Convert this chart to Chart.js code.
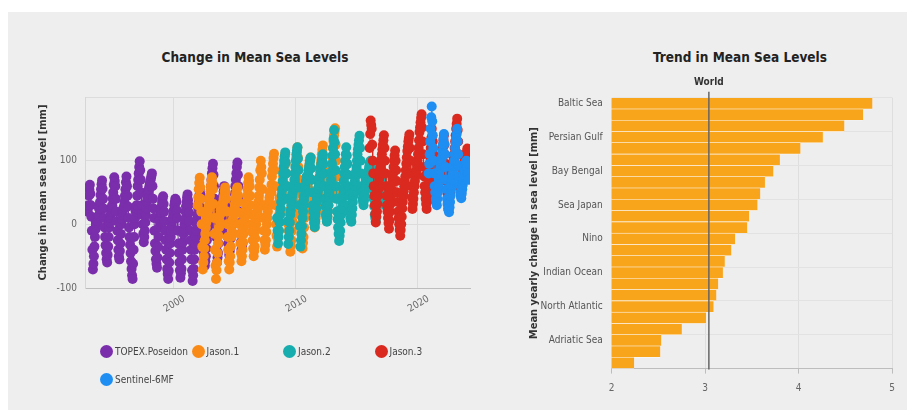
<!DOCTYPE html>
<html>
<head>
<meta charset="utf-8">
<script src="https://cdn.jsdelivr.net/npm/chart.js@4.4.1/dist/chart.umd.min.js"></script>
<style>
  html, body { margin: 0; padding: 0; background: #ffffff; width: 907px; height: 410px; overflow: hidden; }
  body { position: relative; font-family: "DejaVu Sans Condensed", "Liberation Sans", sans-serif; }
  #panel { position: absolute; left: 8px; top: 12px; width: 899px; height: 398px; background: #eeeeee; }
  canvas { position: absolute; top: 0; }
  .title { position: absolute; top: 47px; width: 320px; text-align: center; font-size: 13.5px; font-weight: bold; color: #222; line-height: 20px; }
  .legend-item { position: absolute; height: 14px; display: flex; align-items: center; font-size: 10px; color: #444; white-space: nowrap; }
  .legend-item .dot { width: 13px; height: 13px; border-radius: 50%; margin-right: 2px; flex: none; }
</style>
</head>
<body>
<div id="panel"></div>
<div class="title" style="left:95px">Change in Mean Sea Levels</div>
<div class="title" style="left:580px">Trend in Mean Sea Levels</div>
<canvas id="levels" width="500" height="410" style="left:0"></canvas>
<canvas id="trends" width="397" height="410" style="left:510px"></canvas>
<div id="legend"></div>
<script>
// ---- Half-monthly mean sea level anomaly [mm], one array per altimetry mission ----
const missionNames = ['TOPEX.Poseidon', 'Jason.1', 'Jason.2', 'Jason.3', 'Sentinel-6MF'];
const missionColors = ['#7a2eab', '#fa8a16', '#17adae', '#da2a1f', '#1e8ef2'];
// first sample of each record (decimal year) and samples per year
const missionStarts = [1993, 2002, 2008.5, 2016 + 1 / 12, 2020 + 11 / 12];
const samplesPerYear = 24;

const topexPoseidon = [
  20, 30, 45, 55, 62, 48, 30, 12, -10, -40, -71, -62, -50, -35, -20, -8, 0, 6, 10, 8, 5, 14, 25, 30,
  35, 46, 55, 63, 69, 56, 40, 25, 10, -5, -20, -33, -45, -55, -60, -48, -35, -20, -5, 3, 10, 15, 20, 27,
  30, 40, 50, 62, 74, 68, 60, 40, 20, 5, -10, -25, -40, -50, -55, -42, -30, -15, 0, 8, 15, 20, 25, 28,
  35, 45, 55, 66, 75, 60, 45, 28, 10, -5, -20, -32, -45, -58, -70, -80, -86, -62, -40, -20, 0, 10, 20, 25,
  30, 45, 60, 70, 80, 90, 99, 85, 70, 50, 30, 15, 0, -15, -28, -20, -10, 3, 15, 25, 35, 42, 50, 53,
  55, 60, 65, 68, 72, 76, 80, 60, 40, 25, 10, -10, -30, -42, -55, -62, -68, -52, -35, -20, -5, 5, 15, 18,
  20, 28, 35, 40, 44, 32, 20, 5, -10, -25, -40, -55, -70, -78, -86, -73, -60, -45, -30, -20, -10, -2, 5, 10,
  15, 22, 30, 35, 40, 38, 35, 22, 10, -10, -30, -45, -60, -72, -84, -77, -70, -55, -40, -28, -15, -7, 0, 8,
  20, 28, 35, 42, 47, 38, 30, 18, 5, -10, -25, -40, -55, -72, -89, -80, -70, -55, -40, -30, -20, -10, 0, 8,
  15, 25, 35, 45, 55, 48, 40, 25, 10, -5, -20, -32, -45, -55, -65, -58, -50, -38, -25, -15, -5, 2, 10, 20,
  30, 45, 60, 70, 80, 88, 95, 78, 60, 40, 20, 0, -20, -40, -60, -52, -45, -30, -15, -5, 5, 12, 20, 22,
  25, 35, 45, 52, 60, 50, 40, 28, 15, 3, -10, -20, -30, -40, -48, -42, -35, -22, -10, 0, 10, 15, 20, 28,
  35, 48, 60, 70, 80, 90, 97, 78, 60, 40, 20, 2, -15, -28, -40, -35, -30
];
const jason1 = [
  30, 42, 55, 65, 73, 58, 40, 20, 0, -35, -71, -60, -50, -38, -25, -15, -5, 3, 10, 15, 20, 25, 30, 38,
  45, 52, 60, 68, 74, 65, 55, 32, 10, -15, -40, -65, -86, -72, -60, -45, -30, -18, -5, 5, 15, 22, 30, 25,
  20, 28, 35, 40, 45, 52, 58, 50, 40, 20, 0, -20, -40, -58, -71, -60, -50, -35, -20, -10, 0, 8, 15, 20,
  25, 32, 40, 45, 50, 55, 58, 46, 35, 18, 0, -15, -30, -45, -58, -50, -40, -28, -15, -5, 5, 12, 20, 28,
  35, 45, 55, 65, 74, 68, 60, 45, 30, 15, 0, -12, -25, -38, -50, -42, -35, -22, -10, 0, 10, 18, 25, 35,
  45, 58, 70, 85, 100, 90, 80, 55, 30, 10, -10, -25, -40, -32, -25, -12, 0, 10, 20, 28, 35, 42, 50, 50,
  50, 62, 75, 85, 95, 104, 111, 85, 60, 30, 0, -18, -35, -22, -10, 3, 15, 25, 35, 40, 45, 50, 55, 65,
  75, 85, 95, 102, 110, 95, 80, 60, 40, 20, 0, -10, -20, -32, -43, -34, -25, -10, 5, 15, 25, 35, 45, 60,
  80, 92, 105, 113, 121, 105, 90, 70, 50, 32, 15, 0, -15, -27, -38, -29, -20, -5, 10, 20, 30, 40, 50, 60,
  70, 78, 85, 92, 100, 103, 105, 88, 70, 52, 35, 22, 10, 2, -5, 2, 10, 20, 30, 38, 45, 50, 55, 65,
  75, 85, 95, 102, 110, 117, 124, 107, 90, 70, 50, 35, 20, 12, 5, 12, 20, 30, 40, 48, 55, 60, 65, 78,
  90, 105, 120, 130, 140, 146, 151, 125, 100, 75, 50
];
const jason2 = [
  10, -10, -30, -20, -10, 3, 15, 25, 35, 45, 55, 68,
  80, 90, 100, 107, 113, 97, 80, 60, 40, 5, -31, -20, -10, 3, 15, 22, 30, 38, 45, 50, 55, 62, 70, 80,
  90, 100, 110, 116, 121, 103, 85, 58, 30, -3, -35, -25, -15, -3, 10, 20, 30, 38, 45, 52, 60, 68, 75, 72,
  70, 78, 85, 90, 95, 100, 105, 88, 70, 50, 30, 20, 10, 3, -4, 5, 15, 25, 35, 43, 50, 55, 60, 68,
  75, 82, 90, 95, 100, 105, 110, 95, 80, 60, 40, 28, 15, 10, 4, 12, 20, 30, 40, 48, 55, 62, 70, 82,
  95, 108, 120, 134, 148, 129, 110, 85, 60, 40, 20, 8, -5, -15, -26, -18, -10, 3, 15, 25, 35, 45, 55, 68,
  80, 90, 100, 110, 121, 108, 95, 78, 60, 45, 30, 20, 10, 7, 4, 15, 25, 35, 45, 52, 60, 68, 75, 82,
  90, 100, 110, 118, 125, 132, 139, 120, 100, 80, 60, 50, 40, 35, 30, 38, 45, 52, 60, 65, 70, 75, 80, 82,
  85, 90, 95, 98, 100, 95, 90, 80, 70, 55, 40, 28, 15, 10, 5, 12, 20, 32, 45, 55, 65, 72, 80, 85,
  90, 85, 80, 70, 60, 50, 40, 35, 30, 38, 45, 50
];
const jason3 = [
  120, 142, 163, 156, 150, 125, 100, 80, 60, 45, 30, 16, 3, 12, 20, 32, 45, 55, 65, 72, 80, 88,
  95, 102, 110, 118, 125, 132, 140, 120, 100, 80, 60, 45, 30, 20, 10, 2, -7, 6, 20, 32, 45, 55, 65, 72,
  80, 90, 100, 108, 116, 100, 85, 68, 50, 35, 20, 10, 0, -9, -18, -9, 0, 12, 25, 35, 45, 52, 60, 68,
  75, 85, 95, 105, 115, 122, 130, 135, 141, 120, 100, 80, 60, 42, 24, 32, 40, 50, 60, 68, 75, 80, 85, 92,
  100, 110, 120, 132, 145, 152, 160, 167, 173, 152, 130, 110, 90, 75, 60, 50, 40, 32, 24, 35, 45, 58, 70, 80,
  90, 105, 120, 135, 150, 140, 130, 110, 90, 75, 60, 50, 40, 48, 55, 62, 70, 78, 85, 90, 95, 98, 100, 105,
  110, 118, 125, 132, 140, 125, 110, 95, 80, 68, 55, 48, 40, 38, 35, 42, 50, 58, 65, 72, 80, 88, 95, 102,
  110, 120, 130, 140, 150, 158, 166, 148, 130, 110, 90, 75, 60, 55, 50, 58, 65, 72, 80, 88, 95, 100, 105, 108,
  110, 114, 119, 107, 95
];
const sentinel6MF = [
  80, 95,
  110, 130, 150, 168, 185, 162, 140, 120, 100, 80, 60, 50, 40, 35, 30, 40, 50, 60, 70, 78, 85, 90, 95, 100,
  105, 115, 125, 134, 142, 126, 110, 90, 70, 55, 40, 32, 25, 22, 19, 27, 35, 45, 55, 62, 70, 78, 85, 92,
  100, 110, 120, 128, 135, 142, 150, 130, 110, 92, 75, 62, 50, 45, 41, 48, 55, 62, 70, 78, 85, 90, 95, 98,
  100, 95, 90, 80, 70
];
const missionSeries = [topexPoseidon, jason1, jason2, jason3, sentinel6MF];
const levelTicks = [-100, 0, 100];
const yearTicks = [2000, 2010, 2020];

// ---- Mean yearly sea level trend [mm/yr] by region ----
const regionLabels = [
  'Baltic Sea', '', '', 'Persian Gulf', '', '', 'Bay Bengal', '', '',
  'Sea Japan', '', '', 'Nino', '', '', 'Indian Ocean', '', '',
  'North Atlantic', '', '', 'Adriatic Sea', '', ''
];
const regionTrends = [
  4.79, 4.69, 4.49, 4.26, 4.02, 3.80, 3.73, 3.64, 3.59, 3.56, 3.47, 3.45,
  3.32, 3.28, 3.21, 3.19, 3.14, 3.12, 3.09, 3.01, 2.75, 2.53, 2.52, 2.24
];
const worldTrend = 3.04;
const worldLabel = 'World';
const trendTicks = [2, 3, 4, 5];

const FONT = '"DejaVu Sans Condensed", "Liberation Sans", sans-serif';
Chart.defaults.font.family = FONT;
Chart.defaults.font.size = 10;
Chart.defaults.color = '#666';

// ---- Left: sea level anomaly per mission ----
const levelDatasets = missionSeries.map((vals, k) => ({
  label: missionNames[k],
  data: vals.map((v, i) => ({ x: missionStarts[k] + i / samplesPerYear, y: v })),
  borderColor: missionColors[k],
  backgroundColor: missionColors[k],
  borderWidth: 1,
  pointRadius: 5,
  pointBorderWidth: 0,
  showLine: true,
  order: missionSeries.length - k
}));

new Chart(document.getElementById('levels'), {
  type: 'scatter',
  data: { datasets: levelDatasets },
  options: {
    responsive: false,
    animation: false,
    events: [],
    layout: { padding: { top: 97, left: 0, right: 30, bottom: 92 } },
    plugins: { legend: { display: false }, tooltip: { enabled: false }, title: { display: false } },
    scales: {
      x: {
        type: 'linear',
        min: 1992.77,
        max: 2024.3,
        afterBuildTicks: s => { s.ticks = yearTicks.map(v => ({ value: v })); },
        afterFit: s => { s.height = 30; },
        ticks: {
          includeBounds: false,
          minRotation: 30,
          maxRotation: 30,
          labelOffset: 11,
          padding: 5,
          color: '#666',
          callback: v => String(v)
        },
        grid: { color: '#dcdcdc', drawTicks: false },
        border: { color: '#bdbdbd' }
      },
      y: {
        min: -100,
        max: 200,
        afterBuildTicks: s => { s.ticks = levelTicks.concat([200]).map(v => ({ value: v })); },
        afterFit: s => { s.width = 85; },
        ticks: {
          padding: 8,
          color: '#666',
          callback: v => (levelTicks.includes(v) ? String(v) : '')
        },
        grid: { color: '#dcdcdc', drawTicks: false },
        border: { color: '#d6d6d6' },
        title: {
          display: true,
          text: 'Change in mean sea level [mm]',
          color: '#333',
          font: { size: 11, weight: 'bold' },
          padding: { top: 37, bottom: 0 }
        }
      }
    }
  }
});

// HTML legend laid out in fixed-width columns
const legendBox = document.getElementById('legend');
missionNames.forEach((name, k) => {
  const item = document.createElement('div');
  item.className = 'legend-item';
  const col = k % 4, row = Math.floor(k / 4);
  item.style.left = (100 + col * 91.5) + 'px';
  item.style.top = (344 + row * 28.5) + 'px';
  const dot = document.createElement('span');
  dot.className = 'dot';
  dot.style.background = missionColors[k];
  const txt = document.createElement('span');
  txt.textContent = name;
  item.appendChild(dot);
  item.appendChild(txt);
  legendBox.appendChild(item);
});

// ---- Right: regional trend bars with world reference line ----
const worldLine = {
  id: 'worldLine',
  afterDatasetsDraw(chart) {
    const { ctx, chartArea, scales } = chart;
    const x = scales.x.getPixelForValue(worldTrend);
    ctx.save();
    ctx.strokeStyle = '#666';
    ctx.lineWidth = 1.5;
    ctx.beginPath();
    ctx.moveTo(x, chartArea.top - 6);
    ctx.lineTo(x, chartArea.bottom + 1);
    ctx.stroke();
    ctx.fillStyle = '#333';
    ctx.font = 'bold 10px ' + FONT;
    ctx.textAlign = 'center';
    ctx.textBaseline = 'middle';
    ctx.fillText(worldLabel, x, chartArea.top - 15);
    ctx.restore();
  }
};

new Chart(document.getElementById('trends'), {
  type: 'bar',
  data: {
    labels: regionLabels,
    datasets: [{
      data: regionTrends,
      backgroundColor: '#f9a51b',
      borderColor: '#fbfbfb',
      borderWidth: { top: 0.6, bottom: 0.6, left: 0, right: 0 },
      borderSkipped: false,
      barPercentage: 1,
      categoryPercentage: 1
    }]
  },
  plugins: [worldLine],
  options: {
    indexAxis: 'y',
    responsive: false,
    animation: false,
    events: [],
    layout: { padding: { top: 97.7, left: 0, right: 15, bottom: 0 } },
    plugins: { legend: { display: false }, tooltip: { enabled: false } },
    scales: {
      x: {
        min: 2,
        max: 5,
        afterBuildTicks: s => { s.ticks = trendTicks.map(v => ({ value: v })); },
        afterFit: s => { s.height = 41.4; },
        ticks: { padding: 9, color: '#666', callback: v => String(v) },
        grid: { color: '#dedede', tickColor: '#bdbdbd', tickLength: 5 },
        border: { color: '#bdbdbd' }
      },
      y: {
        afterFit: s => { s.width = 101.7; },
        ticks: { autoSkip: false, padding: 9, color: '#555' },
        grid: {
          drawTicks: false,
          color: c => (c.index % 3 === 0 ? '#e2e2e2' : 'rgba(0,0,0,0)')
        },
        border: { display: false },
        title: {
          display: true,
          text: 'Mean yearly change in sea level [mm]',
          color: '#333',
          font: { size: 11, weight: 'bold' },
          padding: { top: 18, bottom: 0 }
        }
      }
    }
  }
});
</script>
</body>
</html>
